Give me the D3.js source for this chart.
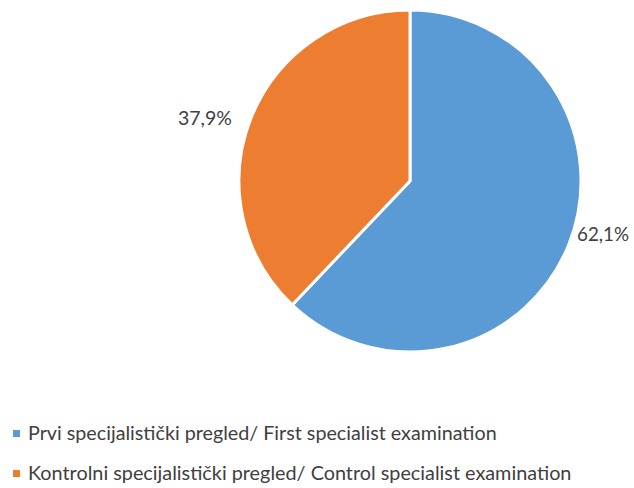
<!DOCTYPE html>
<html><head><meta charset="utf-8">
<script src="https://cdn.jsdelivr.net/npm/d3@7"></script>
<style>body{margin:0;background:#fff}svg{display:block}</style>
</head><body>
<script>
const categories = ["Prvi specijalistički pregled/ First specialist examination", "Kontrolni specijalistički pregled/ Control specialist examination"];
const values = [62.1, 37.9];
const labels = ["62,1%", "37,9%"];
const colors = ["#5B9BD5", "#ED7D31"];

const W = 634, H = 488;
const svg = d3.select("body").append("svg").attr("width", W).attr("height", H);
const font = "Lato, 'Open Sans', sans-serif";
const cx = 410, cy = 181, r = 171;
const pie = d3.pie().sort(null).value(d => d)(values);
const arc = d3.arc().innerRadius(0).outerRadius(r);
const g = svg.append("g").attr("transform", `translate(${cx},${cy})`);
g.selectAll("path").data(pie).join("path")
  .attr("d", arc).attr("fill", (d, i) => colors[i])
  .attr("stroke", "#fff").attr("stroke-width", 3).attr("stroke-linejoin", "round");

// labels: [left x, baseline y, target width]
const labelPos = [[577, 241, 52], [178, 125, 54]];
labels.forEach((d, i) => {
  const [x, y, tw] = labelPos[i];
  const gg = svg.append("g");
  const t = gg.append("text").attr("font-family", font).attr("font-size", 19)
    .attr("fill", "#404040").text(d);
  const w = t.node().getComputedTextLength();
  gg.attr("transform", `translate(${x},${y}) scale(${tw / w},1)`);
});

categories.forEach((c, i) => {
  const yb = [440, 480][i];
  svg.append("rect").attr("x", 13).attr("y", yb - 10).attr("width", 7).attr("height", 7).attr("fill", colors[i]);
  const gg = svg.append("g");
  const t = gg.append("text").attr("font-family", font).attr("font-size", 18.5)
    .attr("fill", "#404040").text(c);
  const target = i === 0 ? 469 : 544;
  const w = t.node().getComputedTextLength();
  gg.attr("transform", `translate(28,${yb}) scale(${target / w},1)`);
});
</script>
</body></html>
